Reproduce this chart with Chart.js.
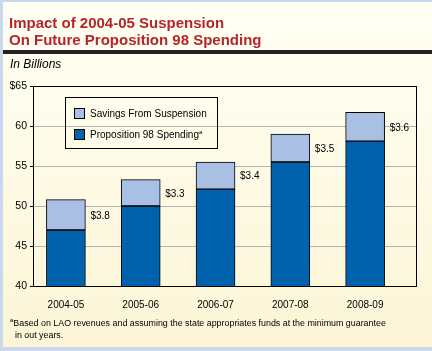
<!DOCTYPE html>
<html>
    <head>
        <meta charset="utf-8">
        <script src="https://cdn.jsdelivr.net/npm/chart.js@4"></script>
        <style type="text/css">
            body{
                margin: 0px;
                font-family: "Liberation Sans", Arial, sans-serif;
            }
            #page{
                position: relative;
                width: 432px;
                height: 351px;
                overflow: hidden;
                background: linear-gradient(#fffff4, #fcf5d6);
                box-sizing: border-box;
                border-left: 3px solid #c9d7ef;
                border-top: 2px solid #c9d7ef;
                border-bottom: 4px solid #c9d7ef;
            }
            #title{
                position: absolute;
                left: 6px;
                top: 12px;
                color: #b5262b;
                font-weight: bold;
                font-size: 15px;
                line-height: 17px;
            }
            #rule{
                position: absolute;
                left: -1px;
                top: 48px;
                width: 440px;
                height: 4px;
                background-color: #222;
            }
            #unit{
                position: absolute;
                left: 7px;
                top: 55px;
                font-style: italic;
                font-size: 12px;
            }
            #legend{
                position: absolute;
                left: 62px;
                top: 95px;
                width: 151px;
                height: 50px;
                border: 1px solid #000;
                font-size: 10px;
            }
            .item{
                position: absolute;
                left: 8px;
                line-height: 12px;
            }
            .sw{
                display: inline-block;
                width: 9px;
                height: 9px;
                border: 1px solid #000;
                vertical-align: -2px;
                margin-right: 5px;
            }
            sup{
                font-size: 6px;
                vertical-align: 4px;
                line-height: 0;
            }
            #note{
                position: absolute;
                left: 7px;
                top: 315px;
                font-size: 8.9px;
                line-height: 12px;
            }
            canvas{
                position: absolute;
                left: -3px;
                top: -2px;
            }
        </style>
    </head>
    <body>
        <div id="page">
            <canvas id="myChart" width="432" height="351"></canvas>
            <div id="title">Impact of 2004-05 Suspension<br>On Future Proposition 98 Spending</div>
            <div id="rule"></div>
            <div id="unit">In Billions</div>
            <div id="legend">
                <div class="item" style="top:10px"><span class="sw" style="background:#a9bfe4"></span>Savings From Suspension</div>
                <div class="item" style="top:31px"><span class="sw" style="background:#0062ad"></span>Proposition 98 Spending<sup>a</sup></div>
            </div>
            <div id="note"><sup>a</sup>Based on LAO revenues and assuming the state appropriates funds at the minimum guarantee<br>&nbsp;&nbsp;in out years.</div>
        </div>
        <script>
            var years = ['2004-05', '2005-06', '2006-07', '2007-08', '2008-09'];
            var spending = [47.0, 50.0, 52.1, 55.5, 58.1];
            var savings = [3.8, 3.3, 3.4, 3.5, 3.6];
            var savingsLabels = ['$3.8', '$3.3', '$3.4', '$3.5', '$3.6'];
            var yTicks = [40, 45, 50, 55, 60, 65];

            function points(values){
                var out = [];
                for(var i = 0; i < values.length; i++){
                    out.push({x: i, y: values[i]});
                }
                return out;
            }

            // frame round the plot and the $ labels beside each bar
            var extras = {
                id: 'extras',
                afterDatasetsDraw: function(chart){
                    var ctx = chart.ctx;
                    var a = chart.chartArea;
                    ctx.save();
                    ctx.strokeStyle = '#000';
                    ctx.lineWidth = 1;
                    ctx.strokeRect(Math.round(a.left) + 0.5, Math.round(a.top) + 0.5,
                        Math.round(a.right - a.left), Math.round(a.bottom - a.top));
                    var meta = chart.getDatasetMeta(1);
                    ctx.fillStyle = '#000';
                    ctx.font = '10px "Liberation Sans", Arial, sans-serif';
                    ctx.textBaseline = 'middle';
                    meta.data.forEach(function(bar, i){
                        var yMid = (bar.y + bar.base) / 2;
                        ctx.fillText(savingsLabels[i], bar.x + bar.width / 2 + 5, yMid + 1);
                    });
                    ctx.restore();
                }
            };

            var ctx = document.getElementById('myChart').getContext('2d');
            var chart = new Chart(ctx, {
                type: 'bar',
                data: {
                    datasets: [{
                        label: 'Proposition 98 Spending',
                        data: points(spending),
                        backgroundColor: '#0062ad',
                        borderColor: '#000',
                        borderWidth: 1,
                        borderSkipped: false,
                        barThickness: 39
                    }, {
                        label: 'Savings From Suspension',
                        data: points(savings),
                        backgroundColor: '#a9bfe4',
                        borderColor: '#000',
                        borderWidth: 1,
                        borderSkipped: false,
                        barThickness: 39
                    }]
                },
                options: {
                    responsive: false,
                    animation: false,
                    layout: {padding: {top: 86, right: 16, left: 0, bottom: 40}},
                    plugins: {legend: {display: false}, tooltip: {enabled: false}},
                    scales: {
                        x: {
                            type: 'linear',
                            stacked: true,
                            offset: false,
                            min: -0.44,
                            max: 4.68,
                            afterBuildTicks: function(scale){
                                scale.ticks = years.map(function(y, i){ return {value: i}; });
                            },
                            afterFit: function(scale){ scale.height = 25; },
                            grid: {display: false},
                            border: {display: false},
                            ticks: {
                                color: '#000',
                                font: {size: 10, family: '"Liberation Sans", Arial, sans-serif'},
                                padding: 5,
                                maxRotation: 0,
                                callback: function(v){ return years[v]; }
                            }
                        },
                        y: {
                            stacked: true,
                            min: 40,
                            max: 65,
                            afterBuildTicks: function(scale){
                                scale.ticks = yTicks.map(function(v){ return {value: v}; });
                            },
                            afterFit: function(scale){ scale.width = 33; },
                            grid: {color: '#b4b4b4', tickColor: '#000', tickLength: 3},
                            border: {color: '#000'},
                            ticks: {
                                color: '#000',
                                padding: 3,
                                font: {size: 10.5, family: '"Liberation Sans", Arial, sans-serif'},
                                callback: function(v){ return v == 65 ? '$65' : v; }
                            }
                        }
                    }
                },
                plugins: [extras]
            });
        </script>
    </body>
</html>
